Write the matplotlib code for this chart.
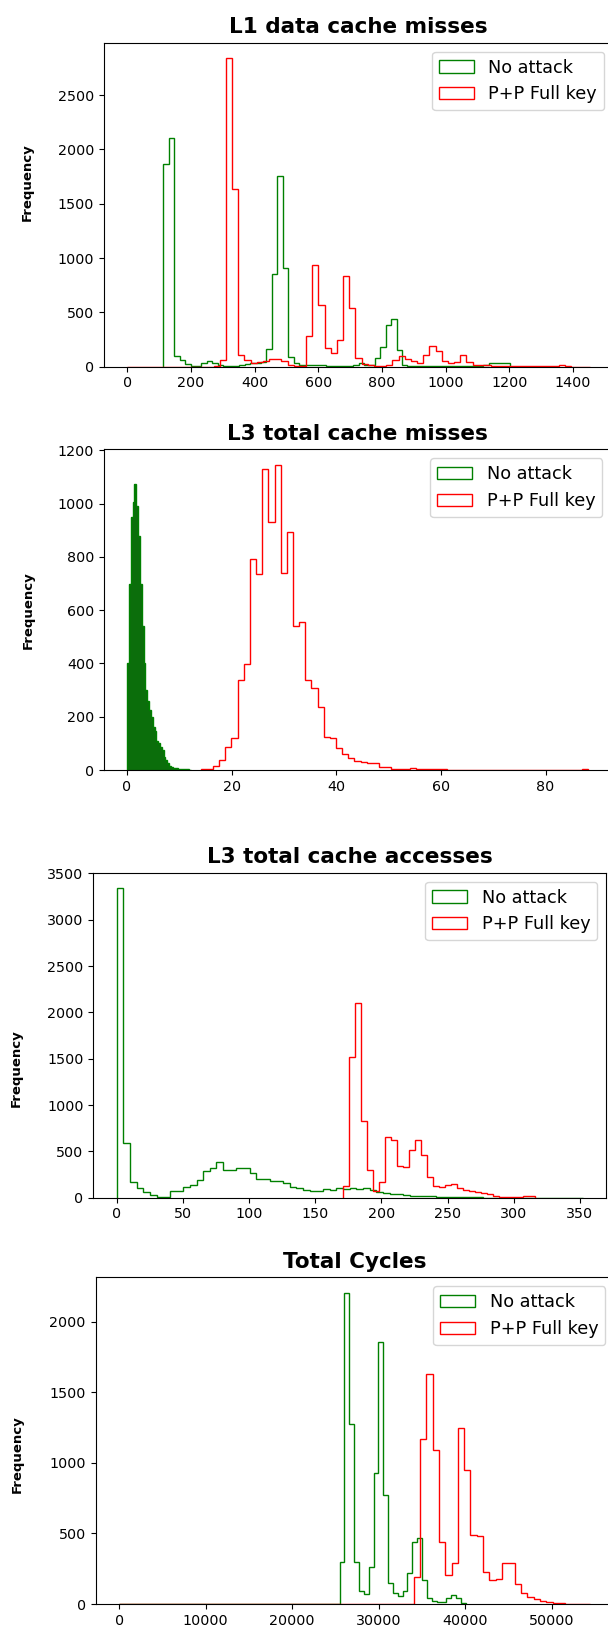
import numpy as np
import matplotlib
matplotlib.use("Agg")
import matplotlib.pyplot as plt

# ---- L1 data cache misses ----
l1_green_start, l1_green_width = 114.0, 17.02
l1_green = [1866, 2109, 95, 65, 25, 10, 10, 35, 50, 30,
            12, 5, 8, 10, 20, 25, 30, 30, 45, 160,
            850, 1756, 912, 90, 30, 20, 15, 15, 20, 15,
            10, 5, 5, 5, 8, 15, 30, 20, 15, 80,
            185, 380, 436, 154, 15, 8, 5, 5, 5, 5,
            5, 5, 5, 5, 5, 5, 5, 8, 10, 15,
            30, 37, 37, 30]
l1_red_start, l1_red_width = 0.0, 19.37
l1_red = [1, 0, 0, 0, 0, 0, 0, 0, 0, 0, 0, 0, 0, 0,
          10, 60, 2840, 1633, 110, 60, 35, 40, 55, 75,
          75, 50, 15, 5, 10, 286, 937, 568, 170, 123,
          246, 839, 538, 77, 25, 15, 10, 10, 20, 60,
          95, 75, 50, 35, 110, 190, 140, 55, 30, 45,
          110, 40, 15, 15, 15, 10, 5, 5, 3, 3,
          2, 2, 2, 2, 2, 2, 15, 2, 1, 1, 1]

# ---- L3 total cache misses ----
l3m_green_start, l3m_green_width = 0.0, 0.35
l3m_green = [400, 700, 950, 1008, 1075, 990, 880, 700, 540, 400,
             300, 260, 225, 200, 160, 145, 110, 100, 85, 75,
             50, 38, 25, 15, 12, 9, 7, 6, 5, 4,
             3, 3, 2, 2, 1]
l3m_red_start, l3m_red_width = 14.09, 1.175
l3m_red = [2, 5, 15, 38, 85, 119, 338, 397,
           792, 736, 1130, 930, 1147, 739, 894, 539, 557, 338, 307, 236, 125, 119,
           81, 60, 44, 35, 31, 28, 25, 12, 10, 5,
           5, 4, 8, 3, 2, 2, 5, 2, 1, 1,
           1, 1, 1, 0, 0, 0, 0, 0, 0, 0,
           0, 0, 0, 0, 0, 0, 0, 0, 0, 0, 3]

# ---- L3 total cache accesses ----
l3a_green_start, l3a_green_width = 0.0, 5.03
l3a_green = [3340, 594, 173, 100, 65, 29, 11, 11, 72, 72,
             119, 137, 191, 288, 317, 381, 299, 299, 317, 317,
             263, 198, 198, 180, 180, 155, 120, 100, 80, 72,
             72, 90, 80, 108, 90, 100, 90, 100, 83, 65,
             54, 40, 36, 30, 20, 15, 15, 20, 10, 8,
             5, 5, 5, 3, 3, 2, 1, 1, 1, 1,
             0, 0, 0, 0, 0, 0, 0, 0, 0, 1]
l3a_red_start, l3a_red_width = 171.0, 4.54
l3a_red = [126, 1522, 2097, 827, 299, 72, 173, 658, 622, 342,
           327, 514, 622, 460, 227, 126, 119, 137, 147, 100,
           83, 72, 58, 47, 36, 22, 11, 11, 7, 7, 14, 14]

# ---- Total cycles ----
cyc_green_start, cyc_green_width = 25500.0, 560.0
cyc_green = [300, 2203, 1277, 300, 94, 71, 265, 931, 1853, 773,
             151, 80, 60, 90, 222, 442, 466, 170, 40, 20,
             17, 16, 40, 64, 40, 10]
cyc_red_start, cyc_red_width = 34054.0, 730.0
cyc_red = [189, 1170, 1629, 1087, 440, 206, 288, 1248, 950, 489,
           480, 229, 172, 175, 293, 290, 140, 80, 47, 33,
           24, 17, 9, 5, 3, 2, 1, 1]

titles = ["L1 data cache misses", "L3 total cache misses",
          "L3 total cache accesses", "Total Cycles"]
labels = ["No attack", "P+P Full key"]


def bins_of(start, width, counts, from_zero=False):
    edges = start + width * np.arange(len(counts) + 1)
    counts = np.asarray(counts, dtype=float)
    if from_zero and start > 0:
        edges = np.r_[0.0, edges]
        counts = np.r_[0.0, counts]
    return edges, counts


def step_hist(ax, start, width, counts, color, label, from_zero=False, fill=None):
    edges, w = bins_of(start, width, counts, from_zero)
    mids = (edges[:-1] + edges[1:]) / 2
    if fill:
        ax.hist(mids, bins=edges, weights=w, histtype="stepfilled",
                color=fill, linewidth=0)
    ax.hist(mids, bins=edges, weights=w, histtype="step",
            color=color, label=label)


W, H = 608, 1632
fig = plt.figure(figsize=(W / 100, H / 100), dpi=100)

# axes boxes in pixels: left, top, right, bottom
boxes = [(104, 42.7, 613, 366.7),
         (104, 449.3, 611, 770),
         (93.3, 872.7, 606, 1197.7),
         (95.5, 1277.3, 614, 1604)]
# the panels were stacked from separate figures, labels sit a bit off-centre
label_y = [0.57, 0.5, 0.40, 0.46]

series = [
    [(l1_green_start, l1_green_width, l1_green), (l1_red_start, l1_red_width, l1_red)],
    [(l3m_green_start, l3m_green_width, l3m_green), (l3m_red_start, l3m_red_width, l3m_red)],
    [(l3a_green_start, l3a_green_width, l3a_green), (l3a_red_start, l3a_red_width, l3a_red)],
    [(cyc_green_start, cyc_green_width, cyc_green), (cyc_red_start, cyc_red_width, cyc_red)],
]

for i, (box, (g, r)) in enumerate(zip(boxes, series)):
    l, t, rr, b = box
    ax = fig.add_axes([l / W, 1 - b / H, (rr - l) / W, (b - t) / H])
    zero = i == 3
    step_hist(ax, *g, color="green", label=labels[0], from_zero=zero,
              fill="#0b6e0b" if i == 1 else None)
    step_hist(ax, *r, color="red", label=labels[1], from_zero=zero)
    ax.set_title(titles[i], fontsize=15.5, fontweight="bold", pad=7)
    ax.set_ylabel("Frequency", fontsize=9.5, fontweight="bold")
    ax.yaxis.set_label_coords(-0.1375, label_y[i])
    ax.tick_params(labelsize=10.3)
    ax.legend(loc="upper right", fontsize=12.7)

fig.savefig("out.png", dpi=100)
